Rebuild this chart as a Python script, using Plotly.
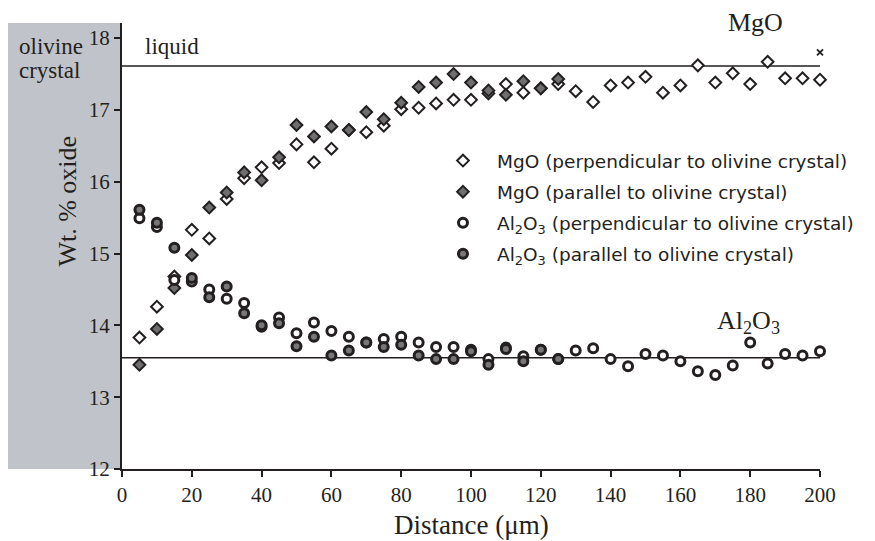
import plotly.graph_objects as go

# ---------------- data ----------------
dist_all = [5, 10, 15, 20, 25, 30, 35, 40, 45, 50, 55, 60, 65, 70, 75, 80, 85, 90, 95, 100,
            105, 110, 115, 120, 125, 130, 135, 140, 145, 150, 155, 160, 165, 170, 175, 180,
            185, 190, 195, 200]
dist_par = dist_all[:25]

mgo_perp = [13.83, 14.26, 14.68, 15.33, 15.21, 15.76, 16.05, 16.20, 16.26, 16.52,
            16.27, 16.46, 16.72, 16.69, 16.78, 17.01, 17.03, 17.09, 17.14, 17.14,
            17.23, 17.36, 17.24, 17.30, 17.36, 17.26, 17.11, 17.34, 17.38, 17.46,
            17.24, 17.34, 17.62, 17.38, 17.51, 17.36, 17.67, 17.44, 17.44, 17.42]
mgo_par = [13.45, 13.95, 14.52, 14.98, 15.64, 15.85, 16.13, 16.02, 16.34, 16.79,
           16.63, 16.77, 16.72, 16.97, 16.87, 17.10, 17.32, 17.38, 17.50, 17.38,
           17.27, 17.21, 17.40, 17.30, 17.43]
al_perp = [15.49, 15.37, 14.63, 14.61, 14.50, 14.37, 14.31, 13.98, 14.11, 13.89,
           14.04, 13.92, 13.84, 13.76, 13.81, 13.84, 13.76, 13.70, 13.70, 13.66,
           13.53, 13.69, 13.57, 13.66, 13.53, 13.65, 13.68, 13.53, 13.43, 13.60,
           13.58, 13.50, 13.36, 13.31, 13.44, 13.76, 13.47, 13.60, 13.58, 13.64]
al_par = [15.61, 15.43, 15.08, 14.66, 14.39, 14.54, 14.17, 14.00, 14.03, 13.71,
          13.84, 13.58, 13.65, 13.76, 13.70, 13.73, 13.58, 13.53, 13.53, 13.64,
          13.45, 13.67, 13.50, 13.66, 13.53]

line_x = [0, 200]
liquid_mgo = 17.61
liquid_al = 13.55
stray_x = [200]
stray_y = [17.80]

x_ticks = [0, 20, 40, 60, 80, 100, 120, 140, 160, 180, 200]
y_ticks = [12, 13, 14, 15, 16, 17, 18]

INK = "#231F20"
SERIF = "Liberation Serif"
SANS = "DejaVu Sans"

fig = go.Figure()

# reference lines
fig.add_trace(go.Scatter(x=line_x, y=[liquid_mgo, liquid_mgo], mode="lines",
                         line=dict(color=INK, width=1.5), showlegend=False, hoverinfo="skip"))
fig.add_trace(go.Scatter(x=line_x, y=[liquid_al, liquid_al], mode="lines",
                         line=dict(color=INK, width=1.5), showlegend=False, hoverinfo="skip"))

fig.add_trace(go.Scatter(
    x=dist_all, y=mgo_perp, mode="markers", legendgroup="a", cliponaxis=False,
    name="MgO (perpendicular to olivine crystal)",
    marker=dict(symbol="diamond", size=9, color="white", line=dict(color=INK, width=2))))
fig.add_trace(go.Scatter(
    x=dist_par, y=mgo_par, mode="markers", legendgroup="b", cliponaxis=False,
    name="MgO (parallel to olivine crystal)",
    marker=dict(symbol="diamond", size=9, color="#6E6E6E", line=dict(color=INK, width=2))))
fig.add_trace(go.Scatter(
    x=dist_all, y=al_perp, mode="markers", legendgroup="c", cliponaxis=False,
    name="Al<sub>2</sub>O<sub>3</sub> (perpendicular to olivine crystal)",
    marker=dict(symbol="circle", size=9, color="white", line=dict(color=INK, width=3))))
fig.add_trace(go.Scatter(
    x=dist_par, y=al_par, mode="markers", legendgroup="d", cliponaxis=False,
    name="Al<sub>2</sub>O<sub>3</sub> (parallel to olivine crystal)",
    marker=dict(symbol="circle", size=9, color="#777777", line=dict(color=INK, width=3))))
fig.add_trace(go.Scatter(
    x=stray_x, y=stray_y, mode="markers", showlegend=False, hoverinfo="skip", cliponaxis=False,
    marker=dict(symbol="x-thin", size=6, line=dict(color=INK, width=1.8))))

# grey olivine band
fig.add_shape(type="rect", xref="paper", yref="paper", x0=-0.1633, x1=0, y0=0, y1=1,
              fillcolor="#C0C4CA", line=dict(width=0), layer="below")

annos = [
    dict(text="olivine", x=-0.1504, y=0.948, xanchor="left", yanchor="middle",
         font=dict(family=SERIF, size=23, color=INK)),
    dict(text="crystal", x=-0.1504, y=0.893, xanchor="left", yanchor="middle",
         font=dict(family=SERIF, size=23, color=INK)),
    dict(text="liquid", x=0.0303, y=0.948, xanchor="left", yanchor="middle",
         font=dict(family=SERIF, size=23, color=INK)),
    dict(text="MgO", x=0.908, y=1.0, xanchor="center", yanchor="middle",
         yshift=1, font=dict(family=SERIF, size=26, color=INK)),
    dict(text="Al<sub>2</sub>O<sub>3</sub>", x=0.897, y=0.33, xanchor="center", yanchor="middle",
         font=dict(family=SERIF, size=26, color=INK)),
    dict(text="Wt. % oxide", x=-0.0785, y=0.6, xanchor="center", yanchor="middle",
         textangle=-90, font=dict(family=SERIF, size=26, color=INK)),
    dict(text="Distance (\u03bcm)", x=0.501, y=-0.125, xanchor="center", yanchor="middle",
         font=dict(family=SERIF, size=27, color=INK)),
]
for a in annos:
    a.update(xref="paper", yref="paper", showarrow=False)
    fig.add_annotation(**a)

fig.update_xaxes(range=[0, 200], tickvals=x_ticks, ticks="outside", ticklen=6, tickwidth=1.5,
                 tickcolor=INK, showline=True, linecolor=INK, linewidth=2, showgrid=False,
                 zeroline=False, tickfont=dict(family=SERIF, size=21, color=INK))
fig.update_yaxes(range=[12, 18.21], tickvals=y_ticks, ticks="outside", ticklen=6, tickwidth=1.5,
                 tickcolor=INK, showline=True, linecolor=INK, linewidth=2, showgrid=False,
                 zeroline=False, tickfont=dict(family=SERIF, size=21, color=INK))

fig.update_layout(
    width=875, height=541,
    margin=dict(l=122, r=55, t=23, b=72),
    paper_bgcolor="white", plot_bgcolor="white",
    showlegend=True,
    legend=dict(x=0.4398, y=0.733, xanchor="left", yanchor="top",
                bgcolor="rgba(0,0,0,0)", tracegroupgap=4, itemwidth=58,
                font=dict(family=SANS, size=18.5, color=INK)),
)

fig.write_html("out.html", config={"displayModeBar": False},
               post_script="document.body.style.margin='0px';document.body.style.padding='0px';")
